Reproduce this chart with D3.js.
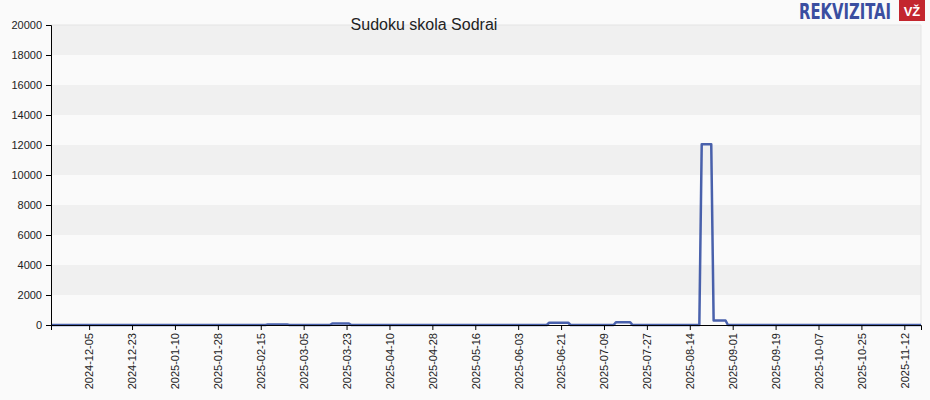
<!DOCTYPE html>
<html><head><meta charset="utf-8">
<script src="https://cdn.jsdelivr.net/npm/d3@7"></script>
<style>
html,body{margin:0;padding:0;background:#fafafa;}
svg{display:block;font-family:"Liberation Sans",Arial,sans-serif;}
</style></head>
<body>
<svg id="c" width="930" height="400"></svg>
<script>
const title = "Sudoku skola Sodrai";
const dates = ["2024-11-19","2025-02-17","2025-02-18","2025-02-26","2025-02-27","2025-03-16","2025-03-17","2025-03-24","2025-03-25","2025-06-15","2025-06-16","2025-06-24","2025-06-25","2025-07-13","2025-07-14","2025-07-20","2025-07-21","2025-08-18","2025-08-19","2025-08-23","2025-08-24","2025-08-29","2025-08-30","2025-11-19"];
const values = [0,0,40,40,0,0,100,100,0,0,150,150,0,0,180,180,0,0,12050,12050,300,300,0,0];
const yTicks = [0,2000,4000,6000,8000,10000,12000,14000,16000,18000,20000];
const xTicks = ["2024-12-05","2024-12-23","2025-01-10","2025-01-28","2025-02-15","2025-03-05","2025-03-23","2025-04-10","2025-04-28","2025-05-16","2025-06-03","2025-06-21","2025-07-09","2025-07-27","2025-08-14","2025-09-01","2025-09-19","2025-10-07","2025-10-25","2025-11-12"];
const xDomain = ["2024-11-19","2025-11-19"];

const parse = d3.utcParse("%Y-%m-%d");
const svg = d3.select("#c");
const L = 51, R = 921, T = 25, B = 325;
const x = d3.scaleUtc().domain(xDomain.map(parse)).range([L, R]);
const y = d3.scaleLinear().domain([0, 20000]).range([B, T]);

// bands
const g = svg.append("g");
for (let i = 0; i < yTicks.length - 1; i++) {
  if (i % 2 === 1) {
    g.append("rect").attr("x", L).attr("width", R - L)
      .attr("y", y(yTicks[i + 1])).attr("height", y(yTicks[i]) - y(yTicks[i + 1]))
      .attr("fill", "#f0f0f0");
  }
}
// top & right border
svg.append("line").attr("x1", L).attr("x2", R).attr("y1", T).attr("y2", T).attr("stroke", "#e4e4e4");
svg.append("line").attr("x1", R).attr("x2", R).attr("y1", T).attr("y2", B).attr("stroke", "#e4e4e4");

// line
const pts = dates.map((d, i) => [parse(d), values[i]]);
const line = d3.line().x(d => x(d[0])).y(d => y(d[1]));
svg.append("path").datum(pts).attr("d", line)
  .attr("fill", "none").attr("stroke", "#3550a3").attr("stroke-width", 2.5)
  .attr("stroke-opacity", 0.9).attr("stroke-linejoin", "round");

// axes
const ya = svg.append("g").attr("transform", `translate(${L},0)`)
  .call(d3.axisLeft(y).tickValues(yTicks).tickSize(5).tickPadding(4).tickFormat(d3.format("d")));
const xa = svg.append("g").attr("transform", `translate(0,${B})`)
  .call(d3.axisBottom(x).tickValues(xTicks.map(parse)).tickSize(5).tickFormat(d3.utcFormat("%Y-%m-%d")));
[ya, xa].forEach(a => {
  a.select(".domain").attr("stroke", "#000");
  a.selectAll(".tick line").attr("stroke", "#000");
  a.selectAll("text").attr("fill", "#222").style("font-size", "11px");
});
xa.selectAll("text").attr("transform", "rotate(-90)").attr("text-anchor", "end")
  .attr("x", -8).attr("y", 0).attr("dy", "0.35em");

// title
svg.append("text").attr("x", 424).attr("y", 30).attr("text-anchor", "middle")
  .style("font-size", "16px").attr("fill", "#222").text(title);

// logo
svg.append("text").attr("transform", "translate(845,19) scale(1,1.4)").attr("text-anchor", "middle")
  .style("font-size", "15px").style("font-weight", "bold").attr("fill", "#3a4ea0")
  .attr("textLength", 92).attr("lengthAdjust", "spacingAndGlyphs")
  .style("font-family", "'DejaVu Sans Condensed',sans-serif").text("REKVIZITAI");
svg.append("rect").attr("x", 899).attr("y", 0).attr("width", 26).attr("height", 21).attr("fill", "#c3262e");
svg.append("text").attr("x", 912).attr("y", 16).attr("text-anchor", "middle")
  .style("font-size", "13px").style("font-weight", "bold").attr("fill", "#fff").text("VŽ");
</script>
</body></html>
